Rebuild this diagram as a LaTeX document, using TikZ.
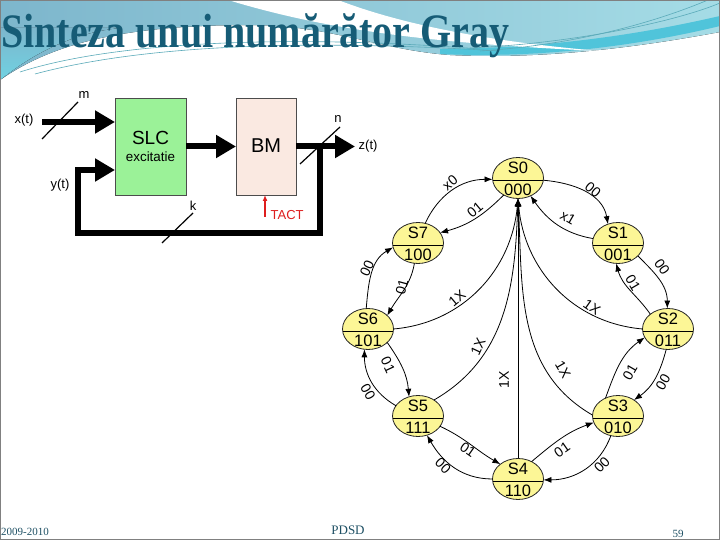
\documentclass[tikz,border=0pt]{standalone}
\usepackage{graphicx}
\usepackage{fontspec}
\setmainfont{Liberation Serif}
\newfontfamily\arialf{Liberation Sans}
\usetikzlibrary{arrows.meta,shapes.geometric,calc}

\definecolor{slcgreen}{RGB}{155,242,152}
\definecolor{bmpeach}{RGB}{250,233,225}
\definecolor{styellow}{RGB}{252,246,150}
\definecolor{titleteal}{RGB}{22,92,118}
\definecolor{footteal}{RGB}{30,80,100}
\definecolor{tactred}{RGB}{222,30,30}
\definecolor{bandblue}{RGB}{125,182,204}
\definecolor{bandlight}{RGB}{165,220,230}
\definecolor{bandcyan}{RGB}{112,210,226}
\definecolor{stripecyan}{RGB}{80,196,218}
\definecolor{swline}{RGB}{90,170,185}

\tikzset{
 stnode/.style={ellipse, draw=black!85, line width=0.8pt, fill=styellow, minimum width=51pt, minimum height=41pt, inner sep=0pt, outer sep=0pt},
 stlabel/.style={font=\arialf\fontsize{16.5}{18}\selectfont, inner sep=0pt},
 trans/.style={line width=0.8pt, -{Latex[length=8pt,width=6pt]}},
 elabel/.style={font=\arialf\fontsize{14}{16}\selectfont, inner sep=0pt},
 bigarrow/.style={line width=6pt, -{Triangle[length=20pt,width=22pt]}},
 blockbox/.style={draw=black!70, line width=0.8pt, inner sep=0pt, outer sep=0pt},
 sigtext/.style={font=\arialf\fontsize{13}{15}\selectfont, inner sep=0pt},
 slash/.style={line width=1.2pt},
}

\newcommand\mkstate[5]{%
 \node[stnode] (#1) at (#2,#3) {};
 \draw[line width=0.8pt] ($(#1.center)+(-25.4,-2)$) -- ($(#1.center)+(25.4,-2)$);
 \node[stlabel] (#1t) at ($(#1.center)+(0,10)$) {#4};
 \node[stlabel] (#1b) at ($(#1.center)+(0,-12)$) {#5};
}

\begin{document}
\begin{tikzpicture}[x=1pt,y=1pt]
\useasboundingbox (0,0) rectangle (720,540);
\fill[white] (0,0) rectangle (720,540);

% ---------- header decoration ----------
\fill[left color=bandblue, right color=bandlight]
  (0,540) -- (720,540) -- (720,508)
  .. controls (650,495) and (550,480) .. (450,485)
  .. controls (380,490) and (330,515) .. (250,515)
  .. controls (120,515) and (50,495) .. (0,460) -- cycle;
\fill[top color=bandblue, bottom color=bandcyan]
  (0,512) -- (120,512) .. controls (80,508) and (40,492) .. (0,460) -- cycle;
\fill[stripecyan] (440,486) .. controls (550,481) and (650,497) .. (720,514)
  -- (720,524) .. controls (650,508) and (560,492) .. (440,491) -- cycle;
\fill[white] (228,540) .. controls (320,512) and (420,497) .. (600,489)
  .. controls (470,500) and (390,520) .. (338,540) -- cycle;
\draw[swline, line width=0.6pt] (20,468) .. controls (120,500) and (300,505) .. (480,491);
\draw[swline, line width=0.6pt] (35,466) .. controls (150,497) and (320,500) .. (500,489);
\draw[swline, line width=0.6pt] (470,492) .. controls (580,497) and (680,520) .. (720,537);
\draw[swline, line width=0.6pt] (480,489) .. controls (590,496) and (670,524) .. (708,540);
\draw[gray, line width=0.8pt] (0.4,0.4) rectangle (719.6,539.6);

\node[anchor=base west, inner sep=0pt, text=titleteal] (title) at (1,492)
  {\scalebox{1}[1.2]{\fontsize{40}{44}\selectfont\bfseries Sinteza unui numărător Gray}};

% ---------- footer ----------
\node[anchor=base west, inner sep=0pt, text=footteal, font=\fontsize{11}{13}\selectfont] (year) at (1,4) {2009-2010};
\node[anchor=base, inner sep=0pt, text=footteal, font=\fontsize{13}{15}\selectfont] (pdsd) at (348,5) {PDSD};
\node[anchor=base, inner sep=0pt, text=footteal, font=\fontsize{11}{13}\selectfont] (pnum) at (678,2) {59};

% ---------- block diagram ----------
\node[blockbox, fill=slcgreen, minimum width=71pt, minimum height=97pt] (slc) at (150.5,393.5) {};
\node[blockbox, fill=bmpeach, minimum width=60pt, minimum height=97pt] (bm) at (266,393.5) {};
\node[font=\arialf\fontsize{19}{21}\selectfont, inner sep=0pt] (slct) at (150.5,402) {SLC};
\node[font=\arialf\fontsize{13.4}{15}\selectfont, inner sep=0pt] (slce) at (150.5,383) {excitatie};
\node[font=\arialf\fontsize{20}{22}\selectfont, inner sep=0pt] (bmt) at (266,394) {BM};

\coordinate (xin) at (42,418);
\draw[bigarrow] (xin) -- (xin -| slc.west);
\draw[bigarrow] (slc.east) -- (bm.west);
\coordinate (zout) at (355,393.5);
\draw[bigarrow] (bm.east) -- (zout);
\coordinate (br) at (320,393.5);
\coordinate (fbl) at (78,307);
\coordinate (fbin) at (115,370);
\draw[line width=6pt, line join=miter] (br) |- (fbl) |- (78,370) -- (95,370);
\draw[bigarrow] (78,370) -- (fbin);

\draw[slash] (42,401) -- (78,438);
\draw[slash] (300,376) -- (340,413);
\draw[slash] (162,297) -- (193,327);
\node[sigtext] (lm) at (84,445) {m};
\node[sigtext] (ln) at (338,421) {n};
\node[sigtext] (lk) at (193,334) {k};
\node[sigtext] (lx) at (24,420) {x(t)};
\node[sigtext] (ly) at (60,355) {y(t)};
\node[sigtext, anchor=west] (lz) at (358.5,393.5) {z(t)};

\coordinate (tactc) at (265,323);
\draw[tactred, line width=1.5pt, -{Latex[length=6pt,width=5pt]}] (tactc) -- (tactc |- bm.south);
\node[sigtext, text=tactred, anchor=west] (tact) at (270.5,325) {TACT};

% ---------- state diagram ----------
\mkstate{s0}{518}{362}{S0}{000}
\mkstate{s1}{618}{297}{S1}{001}
\mkstate{s2}{668}{211}{S2}{011}
\mkstate{s3}{618}{124}{S3}{010}
\mkstate{s4}{518}{61}{S4}{110}
\mkstate{s5}{418}{124}{S5}{111}
\mkstate{s6}{368}{211}{S6}{101}
\mkstate{s7}{418}{297}{S7}{100}

\draw[trans] (s0.-5) to[out=-5,in=100] (s1.118);
\draw[trans] (s1.170) to[out=170,in=-55] (s0.-55);
\draw[trans] (s0.-130) to[out=-135,in=15] (s7.25);
\draw[trans] (s7.70) to[out=65,in=180] (s0.183);
\draw[trans] (s1.-33) to[out=-45,in=90] (s2.92);
\draw[trans] (s2.140) to[out=125,in=-75] (s1.-95);
\draw[trans] (s6.95) to[out=85,in=210] (s7.190);
\draw[trans] (s7.-100) to[out=-100,in=60] (s6.35);
\draw[trans] (s6.-35) to[out=-55,in=95] (s5.115);
\draw[trans] (s5.155) to[out=150,in=-90] (s6.-100);
\draw[trans] (s5.-25) to[out=-25,in=150] (s4.140);
\draw[trans] (s4.180) to[out=180,in=-60] (s5.-65);
\draw[trans] (s4.52) to[out=40,in=200] (s3.195);
\draw[trans] (s3.-110) to[out=-110,in=0] (s4.-2);
\draw[trans] (s3.125) to[out=70,in=215] (s2.200);
\draw[trans] (s2.-95) to[out=-105,in=35] (s3.45);

\draw[trans] (s6.0) to[out=5,in=-95] (s0.-90);
\draw[trans] (s2.180) to[out=175,in=-85] (s0.-90);
\draw[trans] (s5.45) to[out=30,in=-92] (s0.-90);
\draw[trans] (s3.178) to[out=150,in=-87] (s0.-90);
\draw[trans] (s4.90) -- (s0.-90);

\node[elabel, rotate=-40] (e1) at (593,350) {00};
\node[elabel, rotate=-30] (e2) at (568,322) {x1};
\node[elabel, rotate=40] (e3) at (475,330) {01};
\node[elabel, rotate=40] (e4) at (450,357) {x0};
\node[elabel, rotate=-55] (e5) at (662,273) {00};
\node[elabel, rotate=-60] (e6) at (633,257) {01};
\node[elabel, rotate=65] (e7) at (367,272) {00};
\node[elabel, rotate=75] (e8) at (402,253) {01};
\node[elabel, rotate=-65] (e9) at (388,175) {01};
\node[elabel, rotate=-60] (e10) at (368,148) {00};
\node[elabel, rotate=-35] (e11) at (468,90) {01};
\node[elabel, rotate=-45] (e12) at (443,74) {00};
\node[elabel, rotate=35] (e13) at (562,90) {01};
\node[elabel, rotate=45] (e14) at (602,75) {00};
\node[elabel, rotate=60] (e15) at (630,168) {01};
\node[elabel, rotate=60] (e16) at (663,158) {00};
\node[elabel, rotate=40] (e17) at (457,242) {1X};
\node[elabel, rotate=-35] (e18) at (592,233) {1X};
\node[elabel, rotate=65] (e19) at (478,193) {1X};
\node[elabel, rotate=-60] (e20) at (563,170) {1X};
\node[elabel, rotate=90] (e21) at (504,160) {1X};
\end{tikzpicture}
\end{document}
